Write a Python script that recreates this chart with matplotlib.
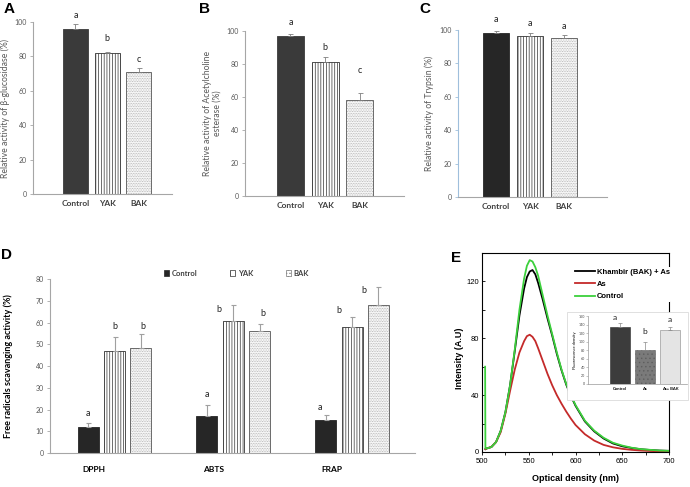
import matplotlib
matplotlib.use("Agg")
import matplotlib.pyplot as plt
from matplotlib.patches import Patch, Rectangle
from matplotlib.lines import Line2D

plt.rcParams['font.family'] = ['Lato', 'DejaVu Sans']
plt.rcParams['hatch.linewidth'] = 0.5

# === data ===
treatments = ['Control', 'YAK', 'BAK']

glucosidase = [96, 82, 71]
glucosidase_err = [3, 0.7, 2]
glucosidase_sig = ['a', 'b', 'c']

ache = [97, 81, 58]
ache_err = [1, 3.5, 4.5]
ache_sig = ['a', 'b', 'c']

trypsin = [98.5, 96.5, 95.5]
trypsin_err = [1, 1.5, 1.5]
trypsin_sig = ['a', 'a', 'a']

assays = ['DPPH', 'ABTS', 'FRAP']
scav_control = [12, 17, 15]
scav_control_err = [2, 5, 2.5]
scav_yak = [47, 60.5, 58]
scav_yak_err = [6.5, 7.5, 4.5]
scav_bak = [48.5, 56, 68]
scav_bak_err = [6, 3.5, 8.5]
scav_sig = [['a', 'a', 'a'], ['b', 'b', 'b'], ['b', 'b', 'b']]

# emission spectra (E)
wl_control = [503.3, 503.6, 505, 510, 515, 520, 525, 530, 535, 540, 545, 548, 551, 554, 557, 560, 565,
              570, 575, 580, 585, 590, 595, 600, 610, 620, 630, 640, 650, 660, 670, 680, 690, 700]
int_control = [60, 2.5, 2.5, 3.5, 7, 15, 28, 47, 72, 100, 122, 131, 135, 134, 130, 124, 110,
               96, 83, 70, 58, 48, 40, 33, 22, 15, 10, 6.5, 4.5, 3, 2, 1.5, 1, 0.8]
wl_bak = [503.6, 505, 510, 515, 520, 525, 530, 535, 540, 545, 548, 551, 554, 557, 560, 565,
          570, 575, 580, 585, 590, 595, 600, 610, 620, 630, 640, 650, 660, 670, 680, 690, 700]
int_bak = [2, 2.5, 3.5, 7, 15, 28, 47, 71, 96, 115, 123, 127, 128, 125, 119, 107,
           94, 82, 69, 57.5, 47.5, 39.5, 32.5, 21.5, 14.5, 9.5, 6, 4, 2.8, 1.9, 1.4, 1, 0.8]
wl_as = [503.6, 505, 510, 515, 520, 525, 530, 535, 540, 545, 548, 551, 554, 557, 560, 565,
         570, 575, 580, 585, 590, 595, 600, 610, 620, 630, 640, 650, 660, 670, 680, 690, 700]
int_as = [2, 2.5, 3.5, 7, 14, 27, 43, 58, 70, 78, 81.5, 82.5, 81, 78, 73, 64,
          55, 47, 40, 34, 28.5, 23.5, 19, 12.5, 8, 5, 3.3, 2.2, 1.5, 1, 0.7, 0.5, 0.4]

# inset of E
inset_groups = ['Control', 'As', 'As+ BAK']
fluor = [135, 81, 127]
fluor_err = [9, 18, 6]
fluor_sig = ['a', 'b', 'a']

DARK = '#3a3a3a'
TICK_GREY = '#595959'
SPINE_GREY = '#a6a6a6'


def draw_bars(ax, xs, heights, width, kinds, dark=DARK):
    for x, h, k in zip(xs, heights, kinds):
        if k == 'Control':
            ax.bar(x, h, width, color=dark, edgecolor=dark, lw=0.6, zorder=2)
        elif k == 'YAK':
            ax.bar(x, h, width, color='white', edgecolor='#333333', hatch='||||||', lw=0.6, zorder=2)
        else:
            ax.bar(x, h, width, color='white', edgecolor='#a8a8a8', hatch='..........', lw=0, zorder=2)
            ax.bar(x, h, width, fill=False, edgecolor='#6a6a6a', lw=0.7, zorder=3)


def style_excel(ax, spine_col=SPINE_GREY):
    for s in ['top', 'right']:
        ax.spines[s].set_visible(False)
    ax.spines['left'].set_color(spine_col)
    ax.spines['bottom'].set_color(SPINE_GREY)
    ax.spines['left'].set_linewidth(0.8)
    ax.spines['bottom'].set_linewidth(0.8)
    ax.tick_params(axis='y', length=2.5, width=0.6, color=spine_col, labelsize=5, labelcolor=TICK_GREY, pad=2)
    ax.tick_params(axis='x', length=0, labelsize=6, labelcolor='#404040', pad=4)
    for lab in ax.get_xticklabels():
        lab.set_fontweight('bold')


def simple_panel(rect, vals, errs, sig, sig_y, ylabel, xlim, width, label_x,
                 spine_col=SPINE_GREY, dark=DARK):
    ax = fig.add_axes(rect)
    xs = list(range(len(vals)))
    draw_bars(ax, xs, vals, width, treatments, dark)
    ax.errorbar(xs, vals, yerr=[[0] * len(errs), errs], fmt='none', ecolor='#7f7f7f',
                elinewidth=0.6, capsize=1.8, capthick=0.6, zorder=4)
    for x, s, y in zip(xs, sig, sig_y):
        ax.text(x, y, s, ha='center', va='center', fontsize=6.5, color='#222222')
    ax.set_xlim(*xlim)
    ax.set_ylim(0, 100)
    ax.set_yticks(range(0, 101, 20))
    ax.set_xticks(xs)
    ax.set_xticklabels(treatments)
    style_excel(ax, spine_col)
    ax.set_ylabel(ylabel, fontsize=6.2, color=TICK_GREY)
    ax.yaxis.set_label_coords(label_x, 0.5)
    return ax


fig = plt.figure(figsize=(6.9, 4.87), dpi=100)

# === A, B, C ===
simple_panel([0.0478, 0.6016, 0.2014, 0.3532], glucosidase, glucosidase_err, glucosidase_sig,
             [104, 90.5, 78], 'Relative activity of β-glucosidase (%)', (-1.34, 3.04), 0.79, -0.165)
simple_panel([0.3551, 0.5975, 0.2304, 0.3388], ache, ache_err, ache_sig,
             [105, 90, 76], 'Relative activity of Acetylcholine\nesterase (%)', (-1.31, 3.27), 0.78, -0.145)
simple_panel([0.6638, 0.5955, 0.2159, 0.3429], trypsin, trypsin_err, trypsin_sig,
             [106.5, 104, 102], 'Relative activity of Trypsin (%)', (-1.12, 3.26), 0.77, -0.16,
             spine_col='#9fbfdc', dark='#262626')

# === D ===
axd = fig.add_axes([0.0725, 0.0698, 0.529, 0.3573])
offsets = [-0.2217, 0, 0.2217]
bw = 0.177
series = [(scav_control, scav_control_err, 'Control'),
          (scav_yak, scav_yak_err, 'YAK'),
          (scav_bak, scav_bak_err, 'BAK')]
letter_dx = [[0, 0, -0.046], [0, -0.122, -0.115], [0.02, 0.03, -0.12]]
letter_y = [[18, 26.7, 21], [58, 66, 65.4], [58, 64, 74.6]]
for i, (vals, errs, kind) in enumerate(series):
    xs = [g + offsets[i] for g in range(len(assays))]
    draw_bars(axd, xs, vals, bw, [kind] * len(vals), '#262626')
    axd.errorbar(xs, vals, yerr=[[0] * len(errs), errs], fmt='none', ecolor='#a0a0a0',
                 elinewidth=0.8, capsize=1.8, capthick=0.8, zorder=4)
    for j, x in enumerate(xs):
        axd.text(x + letter_dx[i][j], letter_y[i][j], scav_sig[i][j], ha='center', va='center',
                 fontsize=6.5, color='#222222')
axd.set_xlim(-0.543, 2.53)
axd.set_ylim(0, 80)
axd.set_yticks(range(0, 81, 10))
axd.set_xticks([g - 0.17 for g in range(len(assays))])
axd.set_xticklabels(assays)
style_excel(axd)
axd.tick_params(axis='x', labelcolor='black', pad=9)
axd.set_ylabel('Free radicals scavanging activity (%)', fontsize=6.5, fontweight='bold')
axd.yaxis.set_label_coords(-0.101, 0.5)
handles = [Patch(facecolor='#262626', edgecolor='#262626', lw=0.5),
           Patch(facecolor='white', edgecolor='#333333', hatch='|||', lw=0.5),
           Patch(facecolor='white', edgecolor='#777777', hatch='.....', lw=0.5)]
leg = axd.legend(handles, treatments, ncol=3, loc='center', bbox_to_anchor=(0.51, 1.034),
                 frameon=False, fontsize=5.5, handlelength=0.7, handleheight=0.7,
                 handletextpad=0.3, columnspacing=4.3, borderaxespad=0)
for t in leg.get_texts():
    t.set_fontweight('bold')
    t.set_color('#404040')

# === E ===
efont = 'Liberation Sans'
axe = fig.add_axes([0.6986, 0.0719, 0.271, 0.4086])
axe.plot(wl_control, int_control, color='#3cd03c', lw=1.3, zorder=3)
axe.plot(wl_bak, int_bak, color='black', lw=1.3, zorder=2)
axe.plot(wl_as, int_as, color='#c42a2a', lw=1.3, zorder=2)
axe.set_xlim(500, 700)
axe.set_ylim(0, 140)
axe.set_xticks(range(500, 701, 50))
axe.set_xticks(range(525, 700, 50), minor=True)
axe.set_yticks([0, 40, 80, 120])
axe.set_yticks([20, 60, 100], minor=True)
axe.tick_params(axis='y', which='both', direction='in', length=2.5, width=0.6, labelsize=5.5, pad=2)
axe.tick_params(axis='x', which='both', direction='out', length=2.5, width=0.6, labelsize=5.5, pad=2)
for lab in axe.get_xticklabels() + axe.get_yticklabels():
    lab.set_family(efont)
for s in axe.spines.values():
    s.set_linewidth(0.8)
axe.set_xlabel('Optical density (nm)', fontsize=6.5, fontweight='bold', family=efont)
axe.xaxis.set_label_coords(0.5, -0.11)
axe.set_ylabel('Intensity (A.U)', fontsize=6.5, fontweight='bold', family=efont)
axe.yaxis.set_label_coords(-0.096, 0.47)
leg_e = axe.legend([Line2D([], [], color='black', lw=1.3),
                    Line2D([], [], color='#c42a2a', lw=1.3),
                    Line2D([], [], color='#3cd03c', lw=1.3)],
                   ['Khambir (BAK) + As', 'As', 'Control'],
                   loc='upper left', bbox_to_anchor=(0.49, 0.93), frameon=True, framealpha=1,
                   handlelength=2.6, handletextpad=0.2, labelspacing=0.65,
                   borderpad=0.2, borderaxespad=0,
                   prop={'family': efont, 'weight': 'bold', 'size': 5.5})
leg_e.get_frame().set_edgecolor('none')

# inset
fig.add_artist(Rectangle((567 / 690, 1 - 400 / 487), (688 - 567) / 690, (400 - 312) / 487,
                         transform=fig.transFigure, facecolor='white', edgecolor='#dadada',
                         lw=0.6, zorder=4))
axi = fig.add_axes([0.852, 0.2115, 0.1435, 0.1396], zorder=5)
xi = list(range(len(fluor)))
axi.bar(xi[0], fluor[0], 0.8, color='#3c3c3c', edgecolor='#2a2a2a', lw=0.4)
axi.bar(xi[1], fluor[1], 0.8, color='#7a7a7a', edgecolor='#5e5e5e', hatch='....', lw=0.4)
axi.bar(xi[2], fluor[2], 0.8, color='#e4e4e4', edgecolor='#9a9a9a', lw=0.5)
axi.errorbar(xi, fluor, yerr=[[0] * 3, fluor_err], fmt='none', ecolor='#888888',
             elinewidth=0.5, capsize=1.2, capthick=0.5)
sig_pos = [(-0.2, 156), (0.0, 124), (0.0, 152)]
for s, (dx, y), x in zip(fluor_sig, sig_pos, xi):
    axi.text(x + dx, y, s, ha='center', va='center', fontsize=6, color='#222222')
axi.set_xlim(-1.28, 2.68)
axi.set_ylim(0, 160)
axi.set_yticks(range(0, 161, 20))
axi.set_xticks(xi)
axi.set_xticklabels(inset_groups)
for s in ['top', 'right']:
    axi.spines[s].set_visible(False)
for s in ['left', 'bottom']:
    axi.spines[s].set_color('#999999')
    axi.spines[s].set_linewidth(0.5)
axi.tick_params(axis='y', length=1.2, width=0.4, labelsize=2.6, pad=1, color='#999999', labelcolor='#444444')
axi.tick_params(axis='x', length=0, labelsize=3, pad=2.5)
for lab in axi.get_xticklabels():
    lab.set_fontweight('bold')
axi.set_ylabel('Fluorescence density', fontsize=3, labelpad=1)

# panel letters
for txt, x, y in [('A', 9, 9), ('B', 205, 9), ('C', 425, 9), ('D', 6, 255), ('E', 456, 258)]:
    fig.text(x / 690, 1 - y / 487, txt, fontsize=11, fontweight='bold', family=efont,
             ha='center', va='center')

fig.savefig('out.png', dpi=100)
